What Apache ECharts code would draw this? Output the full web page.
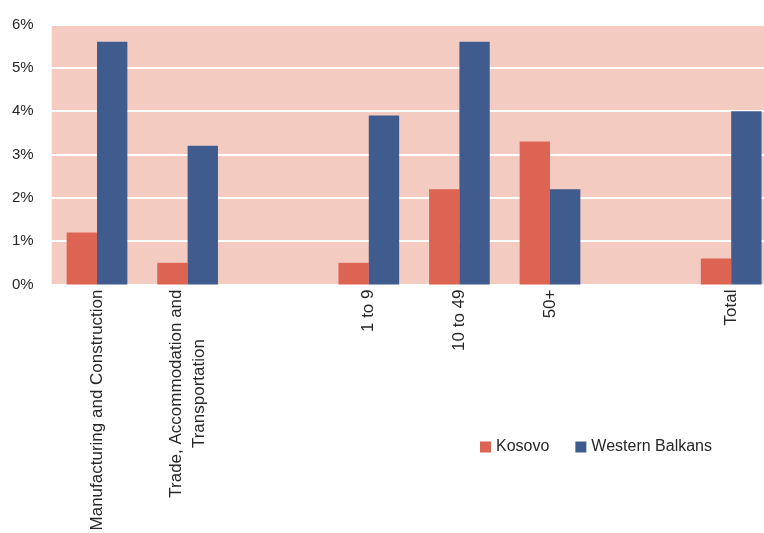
<!DOCTYPE html>
<html>
<head>
<meta charset="utf-8">
<script src="https://cdn.jsdelivr.net/npm/echarts@6/dist/echarts.min.js"></script>
<style>html,body{margin:0;padding:0;background:#fff;}#c{width:764px;height:533px;}</style>
</head>
<body>
<div id="c"></div>
<script>
const categories = ["Manufacturing and Construction", "Trade, Accommodation and\nTransportation", " ", "1 to 9", "10 to 49", "50+", "  ", "Total"];
const kosovo = [1.2, 0.5, null, 0.5, 2.2, 3.3, null, 0.6];
const westernBalkans = [5.6, 3.2, null, 3.9, 5.6, 2.2, null, 4.0];
const yTicks = [0, 1, 2, 3, 4, 5, 6];

const chart = echarts.init(document.getElementById('c'), null, {renderer: 'canvas'});
const font = '"Liberation Sans", Arial, sans-serif';
chart.setOption({
  animation: false,
  textStyle: {fontFamily: font},
  grid: {left: 51.7, width: 724.8, top: 24.5, bottom: 248.5, show: true, backgroundColor: '#F3CBC1', borderWidth: 0, containLabel: false, outerBoundsMode: 'none'},
  legend: {
    left: 475, top: 434, itemWidth: 11, itemHeight: 11, itemGap: 26,
    icon: 'rect',
    textStyle: {fontFamily: font, fontSize: 16, color: '#262626'},
    data: ['Kosovo', 'Western Balkans']
  },
  xAxis: {
    type: 'category',
    data: categories,
    axisLine: {show: false},
    axisTick: {show: false},
    axisLabel: {
      rotate: 90, interval: 0, margin: 5,
      color: '#262626', fontFamily: font, fontSize: 17,
      formatter: function (v) { return v.split('\n').map(function (s) { return '{c|' + s + '}'; }).join('\n'); },
      rich: {c: {align: 'center', fontFamily: font, fontSize: 17, lineHeight: 23, color: '#262626'}}
    }
  },
  yAxis: {
    type: 'value', min: yTicks[0], max: yTicks[yTicks.length - 1], interval: 1,
    axisLine: {show: false}, axisTick: {show: false},
    axisLabel: {formatter: '{value}%', color: '#262626', fontFamily: font, fontSize: 15, margin: 18},
    splitLine: {lineStyle: {color: '#ffffff', width: 2}}
  },
  series: [
    {name: 'Kosovo', type: 'bar', data: kosovo, barGap: '0%', barCategoryGap: '33%', itemStyle: {color: '#DD6453'}},
    {name: 'Western Balkans', type: 'bar', data: westernBalkans, barGap: '0%', barCategoryGap: '33%', itemStyle: {color: '#405B8E'}}
  ]
});
</script>
</body>
</html>
